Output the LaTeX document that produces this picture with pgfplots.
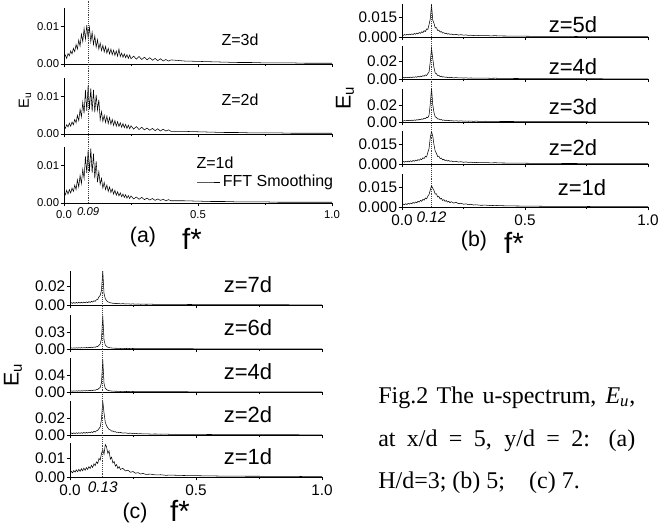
\documentclass[border=0pt]{standalone}
\usepackage{fontspec}
\setmainfont{Liberation Sans}
\newfontfamily\arial{Liberation Sans}
\newfontfamily\timesf{Liberation Serif}
\usepackage{pgfplots}
\pgfplotsset{compat=1.18}
\usepackage{pgfplotstable}

% panel (a): H/d=3, columns Z=3d, Z=2d, Z=1d
\pgfplotstableread{
x a3 a2 a1
0.000 0.0018 0.0020 0.0030
0.005 0.0024 0.0015 0.0022
0.010 0.0015 0.0025 0.0034
0.015 0.0028 0.0019 0.0024
0.020 0.0022 0.0029 0.0036
0.025 0.0035 0.0021 0.0027
0.030 0.0027 0.0032 0.0040
0.035 0.0042 0.0025 0.0031
0.040 0.0033 0.0039 0.0048
0.045 0.0052 0.0030 0.0036
0.050 0.0040 0.0050 0.0062
0.055 0.0064 0.0036 0.0043
0.060 0.0048 0.0066 0.0074
0.065 0.0080 0.0046 0.0052
0.070 0.0060 0.0085 0.0090
0.075 0.0095 0.0055 0.0066
0.080 0.0066 0.0118 0.0125
0.085 0.0104 0.0062 0.0080
0.090 0.0070 0.0130 0.0142
0.095 0.0098 0.0066 0.0084
0.100 0.0060 0.0122 0.0146
0.105 0.0085 0.0060 0.0080
0.110 0.0052 0.0118 0.0132
0.115 0.0075 0.0058 0.0066
0.120 0.0045 0.0105 0.0112
0.125 0.0065 0.0064 0.0056
0.130 0.0040 0.0092 0.0084
0.135 0.0056 0.0038 0.0050
0.140 0.0036 0.0060 0.0066
0.145 0.0050 0.0034 0.0040
0.150 0.0032 0.0050 0.0055
0.155 0.0047 0.0031 0.0036
0.160 0.0029 0.0048 0.0048
0.165 0.0042 0.0028 0.0031
0.170 0.0027 0.0044 0.0043
0.175 0.0040 0.0026 0.0028
0.180 0.0025 0.0039 0.0038
0.185 0.0037 0.0023 0.0024
0.190 0.0023 0.0036 0.0034
0.195 0.0035 0.0021 0.0021
0.200 0.0021 0.0033 0.0030
0.205 0.0040 0.0020 0.0019
0.210 0.0020 0.0030 0.0027
0.215 0.0029 0.0018 0.0017
0.220 0.0018 0.0028 0.0024
0.225 0.0027 0.0017 0.0015
0.230 0.0017 0.0026 0.0022
0.235 0.0025 0.0015 0.0013
0.240 0.0015 0.0024 0.0020
0.245 0.0024 0.0014 0.0012
0.250 0.0014 0.0022 0.0019
0.26 0.0021 0.0013 0.0011
0.27 0.0013 0.0020 0.0016
0.28 0.0020 0.0012 0.0010
0.29 0.0012 0.0018 0.0015
0.30 0.0018 0.0011 0.0009
0.31 0.0011 0.0016 0.0013
0.32 0.0017 0.0010 0.0008
0.33 0.0010 0.0015 0.0012
0.34 0.0015 0.0009 0.0007
0.35 0.0009 0.0014 0.0011
0.36 0.0014 0.0008 0.0007
0.37 0.0008 0.0013 0.0010
0.38 0.0012 0.0008 0.0006
0.39 0.0008 0.0011 0.0009
0.40 0.0011 0.0007 0.0006
0.45 0.0008 0.0007 0.0006
0.50 0.0007 0.0006 0.0005
0.55 0.0006 0.0005 0.0004
0.60 0.0005 0.0004 0.0004
0.65 0.0004 0.0004 0.0003
0.70 0.0004 0.0003 0.0003
0.75 0.0003 0.0003 0.0003
0.80 0.0003 0.0003 0.0002
0.85 0.0003 0.0002 0.0002
0.90 0.0002 0.0002 0.0002
0.95 0.0002 0.0002 0.0002
1.00 0.0002 0.0002 0.0002
}\tabA

% panel (b): H/d=5, columns z=5d ... z=1d
\pgfplotstableread{
x b5 b4 b3 b2 b1
0.000 0.0015 0.0014 0.0016 0.0015 0.0015
0.005 0.0012 0.0020 0.0012 0.0020 0.0022
0.010 0.0019 0.0013 0.0018 0.0014 0.0017
0.015 0.0014 0.0019 0.0013 0.0021 0.0025
0.020 0.0021 0.0014 0.0019 0.0016 0.0019
0.025 0.0016 0.0021 0.0015 0.0023 0.0027
0.030 0.0022 0.0015 0.0021 0.0017 0.0022
0.035 0.0018 0.0022 0.0016 0.0025 0.0030
0.040 0.0024 0.0016 0.0023 0.0019 0.0025
0.045 0.0019 0.0024 0.0018 0.0027 0.0034
0.050 0.0027 0.0018 0.0025 0.0021 0.0028
0.055 0.0021 0.0026 0.0020 0.0030 0.0038
0.060 0.0030 0.0020 0.0028 0.0024 0.0032
0.065 0.0024 0.0029 0.0023 0.0034 0.0043
0.070 0.0034 0.0023 0.0032 0.0028 0.0037
0.075 0.0028 0.0033 0.0027 0.0040 0.0050
0.080 0.0040 0.0027 0.0038 0.0034 0.0043
0.085 0.0034 0.0038 0.0032 0.0048 0.0058
0.090 0.0048 0.0032 0.0046 0.0042 0.0052
0.095 0.0042 0.0046 0.0040 0.0060 0.0068
0.100 0.0062 0.0040 0.0058 0.0055 0.0062
0.105 0.0058 0.0062 0.0052 0.0090 0.0082
0.110 0.0095 0.0080 0.0085 0.0120 0.0095
0.115 0.0140 0.0200 0.0220 0.0205 0.0130
0.120 0.0245 0.0350 0.0410 0.0250 0.0160
0.125 0.0130 0.0230 0.0210 0.0215 0.0142
0.130 0.0105 0.0130 0.0115 0.0150 0.0125
0.135 0.0070 0.0068 0.0062 0.0100 0.0098
0.140 0.0072 0.0060 0.0055 0.0082 0.0100
0.145 0.0050 0.0040 0.0036 0.0058 0.0076
0.150 0.0052 0.0042 0.0038 0.0060 0.0080
0.155 0.0038 0.0028 0.0026 0.0042 0.0060
0.160 0.0042 0.0032 0.0030 0.0046 0.0066
0.165 0.0030 0.0022 0.0021 0.0032 0.0050
0.170 0.0034 0.0026 0.0025 0.0037 0.0056
0.175 0.0026 0.0019 0.0018 0.0027 0.0043
0.180 0.0030 0.0023 0.0022 0.0031 0.0049
0.185 0.0022 0.0016 0.0016 0.0023 0.0037
0.190 0.0026 0.0020 0.0019 0.0027 0.0043
0.195 0.0020 0.0014 0.0014 0.0020 0.0033
0.200 0.0023 0.0018 0.0017 0.0024 0.0040
0.21 0.0017 0.0013 0.0012 0.0017 0.0030
0.22 0.0020 0.0016 0.0015 0.0021 0.0035
0.23 0.0015 0.0012 0.0011 0.0015 0.0025
0.24 0.0018 0.0014 0.0014 0.0018 0.0029
0.25 0.0014 0.0011 0.0010 0.0013 0.0021
0.26 0.0016 0.0013 0.0012 0.0016 0.0024
0.27 0.0012 0.0010 0.0009 0.0012 0.0018
0.28 0.0014 0.0012 0.0011 0.0014 0.0021
0.29 0.0011 0.0009 0.0008 0.0011 0.0015
0.30 0.0013 0.0011 0.0010 0.0012 0.0017
0.32 0.0010 0.0009 0.0008 0.0010 0.0013
0.34 0.0011 0.0010 0.0009 0.0011 0.0014
0.36 0.0009 0.0008 0.0007 0.0009 0.0011
0.38 0.0010 0.0009 0.0008 0.0010 0.0012
0.40 0.0008 0.0007 0.0006 0.0008 0.0010
0.45 0.0007 0.0006 0.0006 0.0007 0.0008
0.50 0.0006 0.0005 0.0005 0.0006 0.0007
0.55 0.0005 0.0005 0.0004 0.0005 0.0006
0.60 0.0005 0.0004 0.0004 0.0005 0.0005
0.65 0.0004 0.0004 0.0003 0.0004 0.0005
0.70 0.0004 0.0003 0.0003 0.0004 0.0004
0.75 0.0003 0.0003 0.0003 0.0003 0.0004
0.80 0.0003 0.0003 0.0002 0.0003 0.0003
0.85 0.0003 0.0002 0.0002 0.0003 0.0003
0.90 0.0002 0.0002 0.0002 0.0002 0.0003
0.95 0.0002 0.0002 0.0002 0.0002 0.0002
1.00 0.0002 0.0002 0.0002 0.0002 0.0002
}\tabB

% panel (c): H/d=7, columns z=7d, 6d, 4d, 2d, 1d
\pgfplotstableread{
x c7 c6 c4 c2 c1
0.000 0.0020 0.0015 0.0020 0.0018 0.0020
0.005 0.0026 0.0020 0.0026 0.0024 0.0030
0.010 0.0018 0.0014 0.0018 0.0016 0.0022
0.015 0.0027 0.0021 0.0028 0.0025 0.0034
0.020 0.0019 0.0015 0.0019 0.0017 0.0026
0.025 0.0028 0.0022 0.0029 0.0026 0.0038
0.030 0.0020 0.0016 0.0020 0.0018 0.0028
0.035 0.0029 0.0023 0.0030 0.0027 0.0040
0.040 0.0021 0.0017 0.0021 0.0019 0.0030
0.045 0.0030 0.0024 0.0031 0.0028 0.0044
0.050 0.0022 0.0018 0.0022 0.0020 0.0033
0.055 0.0032 0.0025 0.0033 0.0030 0.0047
0.060 0.0023 0.0019 0.0024 0.0021 0.0036
0.065 0.0033 0.0027 0.0035 0.0031 0.0050
0.070 0.0025 0.0020 0.0026 0.0023 0.0040
0.075 0.0036 0.0029 0.0038 0.0034 0.0055
0.080 0.0028 0.0022 0.0029 0.0026 0.0045
0.085 0.0040 0.0032 0.0042 0.0038 0.0062
0.090 0.0032 0.0025 0.0033 0.0030 0.0050
0.095 0.0046 0.0036 0.0048 0.0043 0.0070
0.100 0.0040 0.0030 0.0040 0.0036 0.0060
0.105 0.0058 0.0042 0.0058 0.0050 0.0080
0.110 0.0060 0.0045 0.0060 0.0055 0.0072
0.115 0.0090 0.0065 0.0085 0.0075 0.0098
0.120 0.0105 0.0090 0.0110 0.0095 0.0090
0.125 0.0160 0.0180 0.0220 0.0190 0.0125
0.130 0.0370 0.0590 0.0760 0.0400 0.0145
0.135 0.0125 0.0160 0.0200 0.0260 0.0120
0.140 0.0070 0.0070 0.0085 0.0150 0.0172
0.145 0.0048 0.0045 0.0055 0.0110 0.0160
0.150 0.0035 0.0032 0.0040 0.0085 0.0125
0.155 0.0030 0.0026 0.0032 0.0065 0.0138
0.160 0.0024 0.0020 0.0026 0.0060 0.0095
0.165 0.0022 0.0018 0.0023 0.0045 0.0105
0.170 0.0018 0.0015 0.0019 0.0048 0.0075
0.175 0.0020 0.0016 0.0021 0.0036 0.0082
0.180 0.0015 0.0012 0.0016 0.0040 0.0058
0.185 0.0018 0.0014 0.0019 0.0030 0.0066
0.190 0.0013 0.0010 0.0013 0.0034 0.0046
0.195 0.0016 0.0013 0.0017 0.0026 0.0055
0.200 0.0012 0.0009 0.0012 0.0030 0.0040
0.21 0.0015 0.0012 0.0015 0.0022 0.0046
0.22 0.0011 0.0008 0.0011 0.0026 0.0032
0.23 0.0013 0.0010 0.0013 0.0019 0.0036
0.24 0.0010 0.0008 0.0010 0.0022 0.0025
0.25 0.0012 0.0009 0.0012 0.0016 0.0029
0.26 0.0009 0.0007 0.0009 0.0019 0.0020
0.27 0.0011 0.0008 0.0011 0.0014 0.0023
0.28 0.0008 0.0006 0.0008 0.0016 0.0016
0.29 0.0010 0.0008 0.0010 0.0012 0.0019
0.30 0.0008 0.0006 0.0008 0.0014 0.0014
0.32 0.0009 0.0007 0.0009 0.0011 0.0015
0.34 0.0007 0.0006 0.0007 0.0012 0.0011
0.36 0.0008 0.0006 0.0008 0.0009 0.0012
0.38 0.0006 0.0005 0.0006 0.0010 0.0009
0.40 0.0007 0.0005 0.0007 0.0008 0.0010
0.45 0.0006 0.0005 0.0006 0.0008 0.0008
0.50 0.0005 0.0004 0.0005 0.0007 0.0007
0.55 0.0005 0.0004 0.0005 0.0006 0.0006
0.60 0.0004 0.0003 0.0004 0.0005 0.0005
0.65 0.0004 0.0003 0.0004 0.0005 0.0005
0.70 0.0003 0.0003 0.0003 0.0004 0.0004
0.75 0.0003 0.0003 0.0003 0.0004 0.0004
0.80 0.0003 0.0002 0.0003 0.0003 0.0003
0.85 0.0003 0.0002 0.0003 0.0003 0.0003
0.90 0.0002 0.0002 0.0002 0.0003 0.0003
0.95 0.0002 0.0002 0.0002 0.0002 0.0002
1.00 0.0002 0.0002 0.0002 0.0002 0.0002
}\tabC

\pgfplotsset{
  spec/.style={
    scale only axis, anchor=south west,
    axis lines=left, axis line style={-, line width=0.6pt},
    xmin=0, xmax=1, ymin=0,
    scaled y ticks=false, scaled x ticks=false,
    tick align=outside, major tick length=2.5pt, minor tick length=1.5pt,
    xtick={0,0.5,1}, minor xtick={0.25,0.75},
    tick style={black, line width=0.5pt},
    /pgf/number format/assume math mode=true,
    cycle list={{black, line width=0.6pt, mark=none}},
    yticklabel style={inner sep=1pt},
  },
  spa/.style={spec, width=201pt, height=42pt,
    ticklabel style={font=\arial\fontsize{8.5}{9}\selectfont}},
  spb/.style={spec, width=184.5pt, height=24.75pt,
    ticklabel style={font=\arial\fontsize{11.5}{12}\selectfont}},
  spc/.style={spec, width=189pt, height=25.5pt,
    ticklabel style={font=\arial\fontsize{11.5}{12}\selectfont}},
  fbot/.style={xticklabels={0.0,0.5,1.0},
    extra x ticks={#1}, extra x tick labels={\textit{#1}},
    extra x tick style={major tick length=0pt}},
}

\begin{document}
\begin{tikzpicture}
\useasboundingbox (0,0) rectangle (495.75pt,-396.75pt);

% ---------- (a) ----------
\begin{axis}[spa, at={(48pt,-48pt)}, ymax=0.015, ytick={0,0.01}, yticklabels={0.00,0.01}, xticklabels={}]
\addplot table[x=x,y=a3]{\tabA};
\coordinate (atop) at (rel axis cs:0.09,1.2);
\end{axis}
\begin{axis}[spa, at={(48pt,-100.5pt)}, ymax=0.015, ytick={0,0.01}, yticklabels={0.00,0.01}, xticklabels={}]
\addplot table[x=x,y=a2]{\tabA};
\end{axis}
\begin{axis}[spa, at={(48pt,-152.25pt)}, ymax=0.015, ytick={0,0.01}, yticklabels={0.00,0.01}, fbot=0.09,
  legend style={draw=none, fill=none, at={(0.48,0.375)}, anchor=west, font=\arial\fontsize{12}{13}\selectfont}]
\addplot table[x=x,y=a1]{\tabA};
\addlegendentry{FFT Smoothing}
\coordinate (abot) at (rel axis cs:0.09,0);
\end{axis}
\draw[densely dotted, black!75] (atop) -- (abot);

% ---------- (b) ----------
\begin{axis}[spb, at={(301.5pt,-27.75pt)}, ymax=0.0253, ytick={0,0.015}, yticklabels={0.000,0.015}, xticklabels={}]
\addplot table[x=x,y=b5]{\tabB};
\coordinate (btop) at (rel axis cs:0.12,1);
\end{axis}
\begin{axis}[spb, at={(301.5pt,-59.25pt)}, ymax=0.0376, ytick={0,0.02}, yticklabels={0.00,0.02}, xticklabels={}]
\addplot table[x=x,y=b4]{\tabB};
\end{axis}
\begin{axis}[spb, at={(301.5pt,-91.5pt)}, ymax=0.04, ytick={0,0.02}, yticklabels={0.00,0.02}, xticklabels={}]
\addplot table[x=x,y=b3]{\tabB};
\end{axis}
\begin{axis}[spb, at={(301.5pt,-123pt)}, ymax=0.0255, ytick={0,0.015}, yticklabels={0.000,0.015}, xticklabels={}]
\addplot table[x=x,y=b2]{\tabB};
\end{axis}
\begin{axis}[spb, at={(301.5pt,-155.25pt)}, ymax=0.025, ytick={0,0.015}, yticklabels={0.000,0.015}, fbot=0.12]
\addplot table[x=x,y=b1]{\tabB};
\coordinate (bbot) at (rel axis cs:0.12,0);
\end{axis}
\draw[densely dotted, black!75] (btop) -- (bbot);

% ---------- (c) ----------
\begin{axis}[spc, at={(52.5pt,-228.75pt)}, ymax=0.037, ytick={0,0.02}, yticklabels={0.00,0.02}, xticklabels={}]
\addplot table[x=x,y=c7]{\tabC};
\coordinate (ctop) at (rel axis cs:0.13,1);
\end{axis}
\begin{axis}[spc, at={(52.5pt,-261.75pt)}, ymax=0.06, ytick={0,0.03}, yticklabels={0.00,0.03}, xticklabels={}]
\addplot table[x=x,y=c6]{\tabC};
\end{axis}
\begin{axis}[spc, at={(52.5pt,-294pt)}, ymax=0.08, ytick={0,0.04}, yticklabels={0.00,0.04}, xticklabels={}]
\addplot table[x=x,y=c4]{\tabC};
\end{axis}
\begin{axis}[spc, at={(52.5pt,-326.25pt)}, ymax=0.04, ytick={0,0.02}, yticklabels={0.00,0.02}, xticklabels={}]
\addplot table[x=x,y=c2]{\tabC};
\end{axis}
\begin{axis}[spc, at={(52.5pt,-357.75pt)}, ymax=0.018, ytick={0,0.01}, yticklabels={0.00,0.01}, fbot=0.13]
\addplot table[x=x,y=c1]{\tabC};
\coordinate (cbot) at (rel axis cs:0.13,0);
\end{axis}
\draw[densely dotted, black!75] (ctop) -- (cbot);

% ---------- labels ----------
\begin{scope}[x=0.75pt, y=-0.75pt]
\begin{scope}[font=\arial\fontsize{12}{13}\selectfont]
\node at (240,40) {Z=3d};
\node at (240,100) {Z=2d};
\node at (215,163) {Z=1d};
\end{scope}
\begin{scope}[font=\arial\fontsize{16.5}{18}\selectfont]
\node at (573,25) {z=5d};
\node at (573,67) {z=4d};
\node at (573,107) {z=3d};
\node at (573,148) {z=2d};
\node at (582,188) {z=1d};
\node at (248,285) {z=7d};
\node at (248,328) {z=6d};
\node at (248,372) {z=4d};
\node at (248,415) {z=2d};
\node at (248,457) {z=1d};
\end{scope}
\node[rotate=90, font=\arial\fontsize{11}{12}\selectfont] at (25,100) {E\textsubscript{u}};
\node[rotate=90, font=\arial\fontsize{16}{18}\selectfont] at (345,98) {E\textsubscript{u}};
\node[rotate=90, font=\arial\fontsize{16}{18}\selectfont] at (13,375) {E\textsubscript{u}};
\begin{scope}[font=\arial\fontsize{16}{18}\selectfont]
\node at (143,237) {(a)};
\node at (474,241) {(b)};
\node at (135,513) {(c)};
\end{scope}
\begin{scope}[font=\arial\fontsize{22}{24}\selectfont]
\node at (192,239) {f*};
\node at (514,243) {f*};
\node at (180,511) {f*};
\end{scope}
\begin{scope}[font=\timesf\fontsize{18}{20}\selectfont, inner sep=0pt]
\node[anchor=base west] at (378,403) {\makebox[192.75pt][s]{Fig.2 The u-spectrum, \textit{E}\textsubscript{\textit{u}},}};
\node[anchor=base west] at (378,446) {\makebox[192.75pt][s]{at x/d = 5, y/d = 2: (a)}};
\node[anchor=base west] at (378,488) {H/d=3; (b) 5;\quad (c) 7.};
\end{scope}
\end{scope}
\end{tikzpicture}
\end{document}
